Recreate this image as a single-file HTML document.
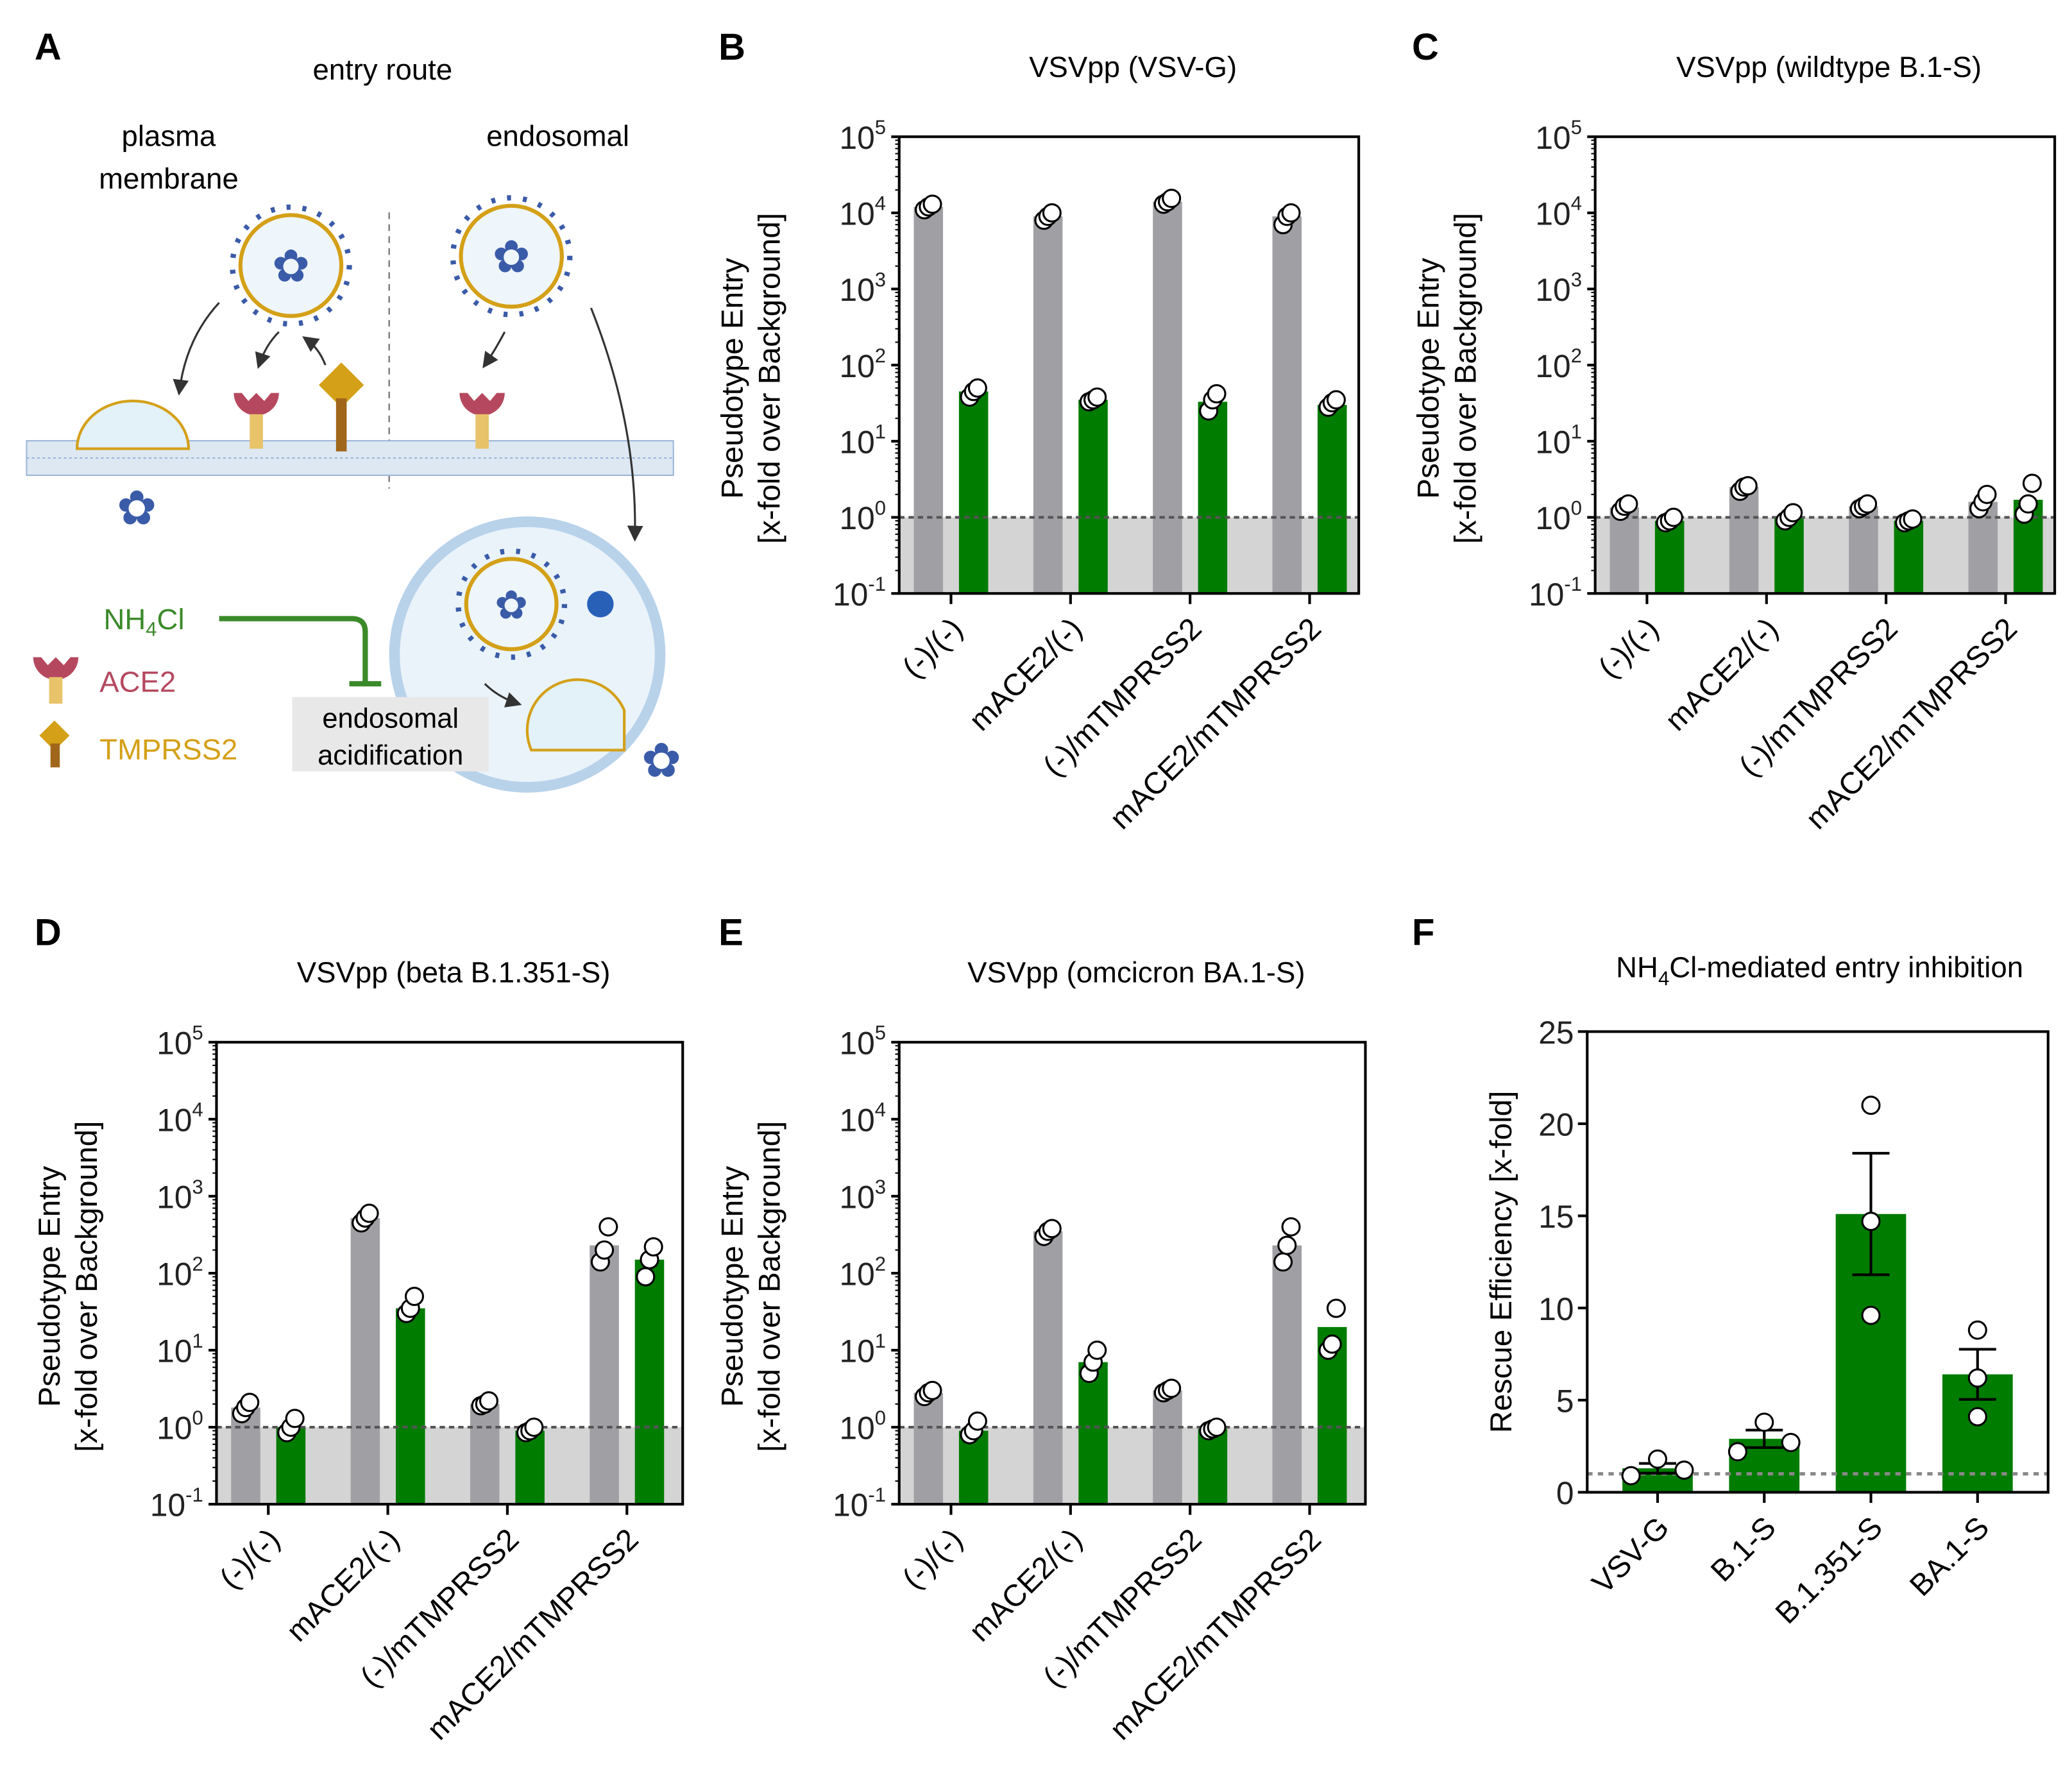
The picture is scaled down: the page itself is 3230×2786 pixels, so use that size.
<!DOCTYPE html>
<html><head><meta charset="utf-8"><style>
html,body{margin:0;padding:0;background:#fff}
svg{display:block;font-family:"Liberation Sans",Arial,sans-serif}
</style></head><body>
<svg id="fig" width="3230" height="2786" viewBox="0 0 1560 1346" preserveAspectRatio="none" xmlns="http://www.w3.org/2000/svg">
<rect width="1560" height="1346" fill="#fff"/>
<g>
<text x="26" y="45" font-size="28" font-weight="bold">A</text>
<text x="288" y="60" font-size="22" text-anchor="middle">entry route</text>
<text x="127" y="110" font-size="22" text-anchor="middle">plasma</text>
<text x="127" y="142" font-size="22" text-anchor="middle">membrane</text>
<text x="420" y="110" font-size="22" text-anchor="middle">endosomal</text>
<line x1="293" y1="160" x2="293" y2="368" stroke="#666" stroke-dasharray="5,4"/>
<rect x="20" y="332" width="487" height="26" fill="#dde8f3" stroke="#9bb6d6"/>
<line x1="20" y1="345" x2="507" y2="345" stroke="#9bb6d6" stroke-dasharray="2,2"/>
<g><circle cx="219" cy="200" r="38" fill="#eef5fb" stroke="#d4a017" stroke-width="3"/><circle cx="219" cy="200" r="44" fill="none" stroke="#3a5ba8" stroke-width="4" stroke-dasharray="3,9"/><text x="219" y="212" font-size="34" text-anchor="middle" fill="#3a5ba8">✿</text></g>
<g><circle cx="385" cy="193" r="38" fill="#eef5fb" stroke="#d4a017" stroke-width="3"/><circle cx="385" cy="193" r="44" fill="none" stroke="#3a5ba8" stroke-width="4" stroke-dasharray="3,9"/><text x="385" y="205" font-size="34" text-anchor="middle" fill="#3a5ba8">✿</text></g>
<path d="M58 338 A42 36 0 0 1 142 338 Z" fill="#e3f1f8" stroke="#d4a017" stroke-width="2"/>
<text x="103" y="395" font-size="36" text-anchor="middle" fill="#3a5ba8">✿</text>
<g><path d="M176 296 a17 17 0 0 0 34 0 l-6 0 l-5 6 l-6 -6 l-6 6 l-5 -6 z" fill="#b5485f"/><rect x="188" y="312" width="10" height="26" fill="#e8c36a"/></g>
<g><path d="M346 296 a17 17 0 0 0 34 0 l-6 0 l-5 6 l-6 -6 l-6 6 l-5 -6 z" fill="#b5485f"/><rect x="358" y="312" width="10" height="26" fill="#e8c36a"/></g>
<g><rect x="245" y="278" width="24" height="24" fill="#d4a017" transform="rotate(45 257 290)"/><rect x="253" y="300" width="8" height="40" fill="#a0661a"/></g>
<defs><marker id="ah" markerWidth="8" markerHeight="8" refX="6" refY="4" orient="auto"><path d="M0 0 L8 4 L0 8 z" fill="#333"/></marker></defs>
<path d="M165 228 Q140 255 135 295" fill="none" stroke="#333" stroke-width="1.5" marker-end="url(#ah)"/>
<path d="M210 250 Q200 260 195 275" fill="none" stroke="#333" stroke-width="1.5" marker-end="url(#ah)"/>
<path d="M245 275 Q240 262 230 255" fill="none" stroke="#333" stroke-width="1.5" marker-end="url(#ah)"/>
<path d="M380 250 Q372 265 365 275" fill="none" stroke="#333" stroke-width="1.5" marker-end="url(#ah)"/>
<path d="M445 232 Q480 320 478 405" fill="none" stroke="#333" stroke-width="1.5" marker-end="url(#ah)"/>
<g><circle cx="397" cy="493" r="100" fill="#eaf3fa" stroke="#b8d2ea" stroke-width="8"/>
<circle cx="385" cy="455" r="34" fill="#eef5fb" stroke="#d4a017" stroke-width="3"/><circle cx="385" cy="455" r="40" fill="none" stroke="#3a5ba8" stroke-width="4" stroke-dasharray="3,9"/><text x="385" y="466" font-size="30" text-anchor="middle" fill="#3a5ba8">✿</text>
<circle cx="452" cy="455" r="10" fill="#2860b8"/>
<path d="M400 565 A36 36 0 0 1 470 535 L470 565 Z" fill="#e3f1f8" stroke="#d4a017" stroke-width="2"/>
<path d="M365 515 Q375 525 390 530" fill="none" stroke="#333" stroke-width="1.5" marker-end="url(#ah)"/></g>
<text x="498" y="585" font-size="36" text-anchor="middle" fill="#3a5ba8">✿</text>
<text x="78" y="474" font-size="22" fill="#3b8a2a">NH<tspan font-size="15" dy="5">4</tspan><tspan dy="-5">Cl</tspan></text>
<path d="M165 466 L265 466 Q275 466 275 476 L275 515 M263 515 L287 515" fill="none" stroke="#3b8a2a" stroke-width="4"/>
<g><path d="M25 495 a17 17 0 0 0 34 0 l-6 0 l-5 6 l-6 -6 l-6 6 l-5 -6 z" fill="#b5485f"/><rect x="37" y="510" width="10" height="20" fill="#e8c36a"/></g>
<text x="75" y="521" font-size="22" fill="#b5485f">ACE2</text>
<g><rect x="33" y="546" width="16" height="16" fill="#d4a017" transform="rotate(45 41 554)"/><rect x="38" y="560" width="7" height="18" fill="#a0661a"/></g>
<text x="75" y="572" font-size="22" fill="#d4a017">TMPRSS2</text>
<rect x="220" y="525" width="148" height="56" fill="#e8e8e8"/>
<text x="294" y="548" font-size="21" text-anchor="middle">endosomal</text>
<text x="294" y="576" font-size="21" text-anchor="middle">acidification</text>
</g>
<g id="charts"></g>
</svg>
<script>
const categories = ["(-)/(-)", "mACE2/(-)", "(-)/mTMPRSS2", "mACE2/mTMPRSS2"];
const logTicks = [-1, 0, 1, 2, 3, 4, 5];
const bGrayBars = [12000, 9000, 14000, 9000];
const bGreenBars = [45, 35, 33, 30];
const bGrayPts = [[11000, 12000, 13000], [8000, 9000, 10000], [13000, 14000, 15500], [7000, 9000, 10000]];
const bGreenPts = [[38, 45, 50], [33, 35, 38], [25, 35, 42], [28, 32, 35]];
const cGrayBars = [1.35, 2.5, 1.4, 1.6];
const cGreenBars = [0.9, 1.0, 0.9, 1.7];
const cGrayPts = [[1.2, 1.4, 1.5], [2.2, 2.5, 2.6], [1.3, 1.4, 1.5], [1.3, 1.6, 2.0]];
const cGreenPts = [[0.85, 0.9, 1.0], [0.9, 1.0, 1.15], [0.85, 0.9, 0.95], [1.1, 1.5, 2.8]];
const dGrayBars = [1.8, 520, 2.0, 230];
const dGreenBars = [1.0, 35, 0.9, 150];
const dGrayPts = [[1.5, 1.8, 2.1], [450, 520, 600], [1.9, 2.0, 2.2], [140, 200, 400]];
const dGreenPts = [[0.85, 1.0, 1.3], [30, 35, 50], [0.85, 0.9, 1.0], [90, 150, 220]];
const eGrayBars = [2.8, 350, 3.0, 230];
const eGreenBars = [0.9, 7, 0.95, 20];
const eGrayPts = [[2.5, 2.8, 3.0], [300, 350, 380], [2.8, 3.0, 3.2], [140, 230, 400]];
const eGreenPts = [[0.8, 0.9, 1.2], [5, 7, 10], [0.9, 0.95, 1.0], [10, 12, 35]];
const fCategories = ["VSV-G", "B.1-S", "B.1.351-S", "BA.1-S"];
const fBars = [1.3, 2.9, 15.1, 6.4];
const fPts = [[0.9, 1.8, 1.2], [2.2, 3.8, 2.7], [21, 14.7, 9.6], [8.8, 6.2, 4.1]];
const fTicks = [0, 5, 10, 15, 20, 25];

const NS = "http://www.w3.org/2000/svg";
const root = document.getElementById("charts");
function mk(tag, attrs, parent) {
  const e = document.createElementNS(NS, tag);
  for (const k in attrs) e.setAttribute(k, attrs[k]);
  (parent || root).appendChild(e);
  return e;
}

function logPanel(id, letter, title, L, T, R, B, grayBars, greenBars, grayPts, greenPts, letterX, letterY) {
  const g = mk("g", {});
  
  
  const y = v => B - (Math.log10(v) + 1) * (B - T) / 6;
  const xc = i => L + 39 + i * 90;
  let t = mk("text", {x: letterX, y: letterY, "font-size": 28, "font-weight": "bold"}, g);
  t.textContent = letter;
  
  
  t = mk("text", {x: (L + R) / 2 + 3, y: T - 45, "font-size": 22, "text-anchor": "middle"}, g);
  t.textContent = title;
  
  
  const bg = mk("rect", {x: L, y: y(1), width: R - L, height: B - y(1), fill: "#d4d4d4"}, g);
  
  
  for (let i = 0; i < categories.length; i++) {
    const gb = mk("rect", {x: xc(i) - 28, y: y(grayBars[i]), width: 22, height: B - y(grayBars[i]), fill: "#a0a0a4"}, g);
    
    
    const gr = mk("rect", {x: xc(i) + 6, y: y(greenBars[i]), width: 22, height: B - y(greenBars[i]), fill: "#007c00"}, g);
    
    
  }
  const dl = mk("line", {x1: L, x2: R, y1: y(1), y2: y(1), stroke: "#555", "stroke-width": 2, "stroke-dasharray": "4,3"}, g);
  
  
  for (let i = 0; i < categories.length; i++) {
    grayPts[i].forEach((v, j) => {
      const c = mk("circle", {cx: xc(i) - 17 + (j - 1) * 3, cy: y(v), r: 6.5, fill: "#fff", stroke: "#000", "stroke-width": 1.5}, g);
      
      
    });
    greenPts[i].forEach((v, j) => {
      const c = mk("circle", {cx: xc(i) + 17 + (j - 1) * 3, cy: y(v), r: 6.5, fill: "#fff", stroke: "#000", "stroke-width": 1.5}, g);
      
      
    });
  }
  const fr = mk("rect", {x: L, y: T, width: R - L, height: B - T, fill: "none", stroke: "#000", "stroke-width": 2}, g);
  
  
  logTicks.forEach(p => {
    const yy = y(Math.pow(10, p));
    mk("line", {x1: L - 6, x2: L, y1: yy, y2: yy, stroke: "#000", "stroke-width": 2}, g);
    if (p < 5) for (let m = 2; m < 10; m++) {
      const ym = y(m * Math.pow(10, p));
      mk("line", {x1: L - 3, x2: L, y1: ym, y2: ym, stroke: "#000", "stroke-width": 1}, g);
    }
    const tl = mk("text", {x: L - 10, y: yy + 9, "font-size": 24, "text-anchor": "end", fill: "#222"}, g);
    tl.innerHTML = '10<tspan dy="-11" font-size="15">' + p + '</tspan>';
    
    
  });
  for (let i = 0; i < categories.length; i++) {
    const tx = L + 39 + i * 90;
    mk("line", {x1: tx, x2: tx, y1: B, y2: B + 8, stroke: "#000", "stroke-width": 2}, g);
    const xl = mk("text", {x: tx + 10, y: B + 28, "font-size": 23, "text-anchor": "end", transform: "rotate(-45 " + (tx + 10) + " " + (B + 28) + ")"}, g);
    xl.textContent = categories[i];
    
    
  }
  const cy = (T + B) / 2 + 10;
  const a1 = mk("text", {x: L - 118, y: cy, "font-size": 23, "text-anchor": "middle", transform: "rotate(-90 " + (L - 118) + " " + cy + ")"}, g);
  a1.textContent = "Pseudotype Entry";
  
  
  const a2 = mk("text", {x: L - 90, y: cy, "font-size": 23, "text-anchor": "middle", transform: "rotate(-90 " + (L - 90) + " " + cy + ")"}, g);
  a2.textContent = "[x-fold over Background]";
  
  
}

logPanel("b", "B", "VSVpp (VSV-G)", 677, 103, 1023, 447, bGrayBars, bGreenBars, bGrayPts, bGreenPts, 541, 45);
logPanel("c", "C", "VSVpp (wildtype B.1-S)", 1201, 103, 1547, 447, cGrayBars, cGreenBars, cGrayPts, cGreenPts, 1063, 45);
logPanel("d", "D", "VSVpp (beta B.1.351-S)", 163, 785, 514, 1133, dGrayBars, dGreenBars, dGrayPts, dGreenPts, 26, 712);
logPanel("e", "E", "VSVpp (omcicron BA.1-S)", 677, 785, 1028, 1133, eGrayBars, eGreenBars, eGrayPts, eGreenPts, 541, 712);

(function () {
  const L = 1195, T = 777, R = 1542, B = 1124;
  const g = mk("g", {});
  
  
  const y = v => B - v * (B - T) / 25;
  const xc = i => 1248 + i * 80.3;
  let t = mk("text", {x: 1063, y: 712, "font-size": 28, "font-weight": "bold"}, g);
  t.textContent = "F";
  
  
  t = mk("text", {x: 1370, y: 736, "font-size": 22, "text-anchor": "middle"}, g);
  t.innerHTML = 'NH<tspan font-size="15" dy="6">4</tspan><tspan dy="-6">Cl-mediated entry inhibition</tspan>';
  
  
  for (let i = 0; i < fBars.length; i++) {
    const b = mk("rect", {x: xc(i) - 26.5, y: y(fBars[i]), width: 53, height: B - y(fBars[i]), fill: "#007c00"}, g);
    
    
  }
  const dl = mk("line", {x1: L, x2: R, y1: y(1), y2: y(1), stroke: "#888", "stroke-width": 2.5, "stroke-dasharray": "4,4"}, g);
  
  
  for (let i = 0; i < fBars.length; i++) {
    const p = fPts[i], n = p.length;
    const m = p.reduce((a, b) => a + b, 0) / n;
    const sd = Math.sqrt(p.reduce((a, b) => a + (b - m) * (b - m), 0) / (n - 1));
    const sem = sd / Math.sqrt(n);
    const x = xc(i);
    const e = mk("path", {d: "M" + x + " " + y(fBars[i] - sem) + " V" + y(fBars[i] + sem) + " M" + (x - 14) + " " + y(fBars[i] + sem) + " H" + (x + 14) + " M" + (x - 14) + " " + y(fBars[i] - sem) + " H" + (x + 14), stroke: "#000", "stroke-width": 2, fill: "none"}, g);
    
    
    p.forEach((v, j) => {
      const off = (j === 0 ? -20 : j === 2 ? 20 : 0) * (i < 2 ? 1 : 0);
      const c = mk("circle", {cx: x + off, cy: y(v), r: 6.5, fill: "#fff", stroke: "#000", "stroke-width": 1.5}, g);
      
      
    });
  }
  const ax = mk("path", {d: "M" + L + " " + T + " H" + R + " V" + B + " H" + L + " Z", fill: "none", stroke: "#000", "stroke-width": 2}, g);
  
  
  fTicks.forEach(v => {
    mk("line", {x1: L - 7, x2: L, y1: y(v), y2: y(v), stroke: "#000", "stroke-width": 2}, g);
    const tl = mk("text", {x: L - 10, y: y(v) + 9, "font-size": 24, "text-anchor": "end", fill: "#222"}, g);
    tl.textContent = v;
    
    
  });
  for (let i = 0; i < fCategories.length; i++) {
    const tx = xc(i);
    mk("line", {x1: tx, x2: tx, y1: B, y2: B + 8, stroke: "#000", "stroke-width": 2}, g);
    const xl = mk("text", {x: tx + 10, y: B + 28, "font-size": 23, "text-anchor": "end", transform: "rotate(-45 " + (tx + 10) + " " + (B + 28) + ")"}, g);
    xl.textContent = fCategories[i];
    
    
  }
  const cy = (T + B) / 2;
  const a = mk("text", {x: 1138, y: cy, "font-size": 23, "text-anchor": "middle", transform: "rotate(-90 1138 " + cy + ")"}, g);
  a.textContent = "Rescue Efficiency [x-fold]";
  
  
})();
</script>
</body></html>
